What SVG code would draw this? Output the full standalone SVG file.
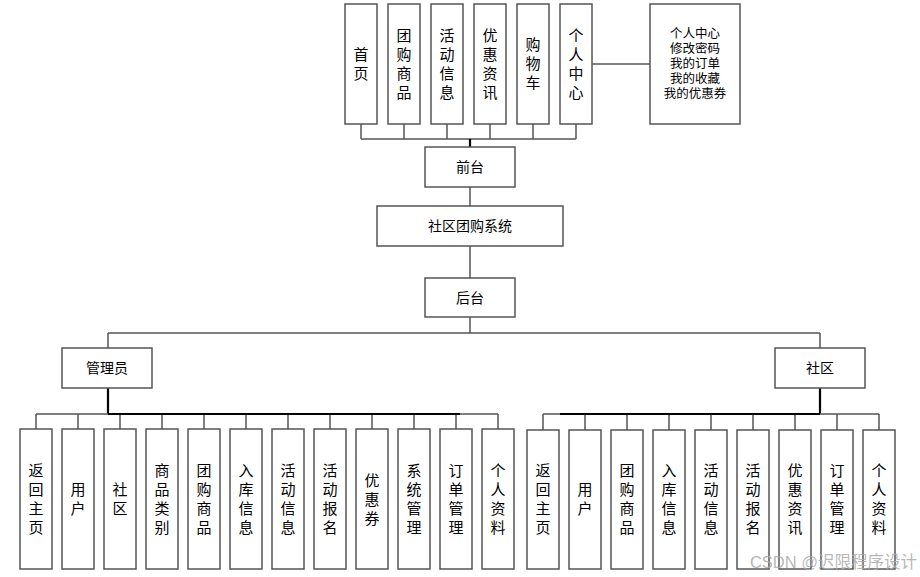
<svg xmlns="http://www.w3.org/2000/svg" width="920" height="577" viewBox="0 0 920 577">
<style>
.box{fill:#fff;stroke:#555;stroke-width:1.5}
.ln{stroke:#555;stroke-width:1.5;fill:none}
.tk{stroke:#000;stroke-width:2.2;fill:none}
text{font-family:"Liberation Sans","Noto Sans CJK SC",sans-serif;fill:#000;text-anchor:middle}
.v{font-size:15px}
.h{font-size:14px}
.s{font-size:12.5px}
</style>
<rect width="920" height="577" fill="#fff"/>
<g id="connectors">
<path class="ln" d="M361 124V139M404 124V139M447 124V139M490 124V139M533 124V139M576 124V139M361 139H576"/>
<path class="tk" d="M470 139V147"/>
<path class="ln" d="M592 64H650"/>
<path class="ln" d="M470 187V206M470 246V278M470 317V333M108 333H820M108 333V348M820 333V348"/>
<path class="tk" d="M108 388V414M820 388V414"/>
<path class="ln" d="M36 414H498M36 414V429M78 414V429M120 414V429M162 414V429M204 414V429M246 414V429M288 414V429M330 414V429M372 414V429M414 414V429M456 414V429M498 414V429"/>
<path class="tk" d="M108 414H460"/>
<path class="ln" d="M543 414H879M543 414V430M585 414V430M627 414V430M669 414V430M711 414V430M753 414V430M795 414V430M837 414V430M879 414V430"/>
<path class="tk" d="M560 414H820"/>
</g>
<g id="n-home"><rect class="box" x="345" y="4" width="32" height="120"/><text class="v" x="361" y="60">首</text><text class="v" x="361" y="79">页</text></g>
<g id="n-tuangou"><rect class="box" x="388" y="4" width="32" height="120"/><text class="v" x="404" y="41">团</text><text class="v" x="404" y="60">购</text><text class="v" x="404" y="79">商</text><text class="v" x="404" y="98">品</text></g>
<g id="n-huodong"><rect class="box" x="431" y="4" width="32" height="120"/><text class="v" x="447" y="41">活</text><text class="v" x="447" y="60">动</text><text class="v" x="447" y="79">信</text><text class="v" x="447" y="98">息</text></g>
<g id="n-youhui"><rect class="box" x="474" y="4" width="32" height="120"/><text class="v" x="490" y="41">优</text><text class="v" x="490" y="60">惠</text><text class="v" x="490" y="79">资</text><text class="v" x="490" y="98">讯</text></g>
<g id="n-cart"><rect class="box" x="517" y="4" width="32" height="120"/><text class="v" x="533" y="50">购</text><text class="v" x="533" y="69">物</text><text class="v" x="533" y="88">车</text></g>
<g id="n-personal"><rect class="box" x="560" y="4" width="32" height="120"/><text class="v" x="576" y="41">个</text><text class="v" x="576" y="60">人</text><text class="v" x="576" y="79">中</text><text class="v" x="576" y="98">心</text></g>
<g id="n-personal-detail"><rect class="box" x="650" y="4" width="90" height="120"/>
<text class="s" x="695" y="38">个人中心</text><text class="s" x="695" y="53">修改密码</text><text class="s" x="695" y="68">我的订单</text><text class="s" x="695" y="83">我的收藏</text><text class="s" x="695" y="98">我的优惠券</text></g>
<g id="n-front"><rect class="box" x="425" y="147" width="90" height="40"/><text class="h" x="470" y="172">前台</text></g>
<g id="n-system"><rect class="box" x="377" y="206" width="186" height="40"/><text class="h" x="470" y="231">社区团购系统</text></g>
<g id="n-back"><rect class="box" x="425" y="278" width="90" height="39"/><text class="h" x="470" y="303">后台</text></g>
<g id="n-admin"><rect class="box" x="62" y="348" width="90" height="40"/><text class="h" x="107" y="373">管理员</text></g>
<g id="n-community"><rect class="box" x="775" y="348" width="90" height="40"/><text class="h" x="820" y="373">社区</text></g>
<g id="admin-items">
<g id="a1"><rect class="box" x="20" y="429" width="32" height="140"/><text class="v" x="36" y="476">返</text><text class="v" x="36" y="495">回</text><text class="v" x="36" y="514">主</text><text class="v" x="36" y="533">页</text></g>
<g id="a2"><rect class="box" x="62" y="429" width="32" height="140"/><text class="v" x="78" y="495">用</text><text class="v" x="78" y="514">户</text></g>
<g id="a3"><rect class="box" x="104" y="429" width="32" height="140"/><text class="v" x="120" y="495">社</text><text class="v" x="120" y="514">区</text></g>
<g id="a4"><rect class="box" x="146" y="429" width="32" height="140"/><text class="v" x="162" y="476">商</text><text class="v" x="162" y="495">品</text><text class="v" x="162" y="514">类</text><text class="v" x="162" y="533">别</text></g>
<g id="a5"><rect class="box" x="188" y="429" width="32" height="140"/><text class="v" x="204" y="476">团</text><text class="v" x="204" y="495">购</text><text class="v" x="204" y="514">商</text><text class="v" x="204" y="533">品</text></g>
<g id="a6"><rect class="box" x="230" y="429" width="32" height="140"/><text class="v" x="246" y="476">入</text><text class="v" x="246" y="495">库</text><text class="v" x="246" y="514">信</text><text class="v" x="246" y="533">息</text></g>
<g id="a7"><rect class="box" x="272" y="429" width="32" height="140"/><text class="v" x="288" y="476">活</text><text class="v" x="288" y="495">动</text><text class="v" x="288" y="514">信</text><text class="v" x="288" y="533">息</text></g>
<g id="a8"><rect class="box" x="314" y="429" width="32" height="140"/><text class="v" x="330" y="476">活</text><text class="v" x="330" y="495">动</text><text class="v" x="330" y="514">报</text><text class="v" x="330" y="533">名</text></g>
<g id="a9"><rect class="box" x="356" y="429" width="32" height="140"/><text class="v" x="372" y="486">优</text><text class="v" x="372" y="505">惠</text><text class="v" x="372" y="524">券</text></g>
<g id="a10"><rect class="box" x="398" y="429" width="32" height="140"/><text class="v" x="414" y="476">系</text><text class="v" x="414" y="495">统</text><text class="v" x="414" y="514">管</text><text class="v" x="414" y="533">理</text></g>
<g id="a11"><rect class="box" x="440" y="429" width="32" height="140"/><text class="v" x="456" y="476">订</text><text class="v" x="456" y="495">单</text><text class="v" x="456" y="514">管</text><text class="v" x="456" y="533">理</text></g>
<g id="a12"><rect class="box" x="482" y="429" width="32" height="140"/><text class="v" x="498" y="476">个</text><text class="v" x="498" y="495">人</text><text class="v" x="498" y="514">资</text><text class="v" x="498" y="533">料</text></g>
</g>
<g id="community-items">
<g id="c1"><rect class="box" x="527" y="430" width="32" height="139"/><text class="v" x="543" y="476">返</text><text class="v" x="543" y="495">回</text><text class="v" x="543" y="514">主</text><text class="v" x="543" y="533">页</text></g>
<g id="c2"><rect class="box" x="569" y="430" width="32" height="139"/><text class="v" x="585" y="495">用</text><text class="v" x="585" y="514">户</text></g>
<g id="c3"><rect class="box" x="611" y="430" width="32" height="139"/><text class="v" x="627" y="476">团</text><text class="v" x="627" y="495">购</text><text class="v" x="627" y="514">商</text><text class="v" x="627" y="533">品</text></g>
<g id="c4"><rect class="box" x="653" y="430" width="32" height="139"/><text class="v" x="669" y="476">入</text><text class="v" x="669" y="495">库</text><text class="v" x="669" y="514">信</text><text class="v" x="669" y="533">息</text></g>
<g id="c5"><rect class="box" x="695" y="430" width="32" height="139"/><text class="v" x="711" y="476">活</text><text class="v" x="711" y="495">动</text><text class="v" x="711" y="514">信</text><text class="v" x="711" y="533">息</text></g>
<g id="c6"><rect class="box" x="737" y="430" width="32" height="139"/><text class="v" x="753" y="476">活</text><text class="v" x="753" y="495">动</text><text class="v" x="753" y="514">报</text><text class="v" x="753" y="533">名</text></g>
<g id="c7"><rect class="box" x="779" y="430" width="32" height="139"/><text class="v" x="795" y="476">优</text><text class="v" x="795" y="495">惠</text><text class="v" x="795" y="514">资</text><text class="v" x="795" y="533">讯</text></g>
<g id="c8"><rect class="box" x="821" y="430" width="32" height="139"/><text class="v" x="837" y="476">订</text><text class="v" x="837" y="495">单</text><text class="v" x="837" y="514">管</text><text class="v" x="837" y="533">理</text></g>
<g id="c9"><rect class="box" x="863" y="430" width="32" height="139"/><text class="v" x="879" y="476">个</text><text class="v" x="879" y="495">人</text><text class="v" x="879" y="514">资</text><text class="v" x="879" y="533">料</text></g>
</g>
<text x="917" y="568" style="font-size:16.5px;fill:#aaa;fill-opacity:0.85;text-anchor:end">CSDN @迟限程序设计</text>
</svg>
